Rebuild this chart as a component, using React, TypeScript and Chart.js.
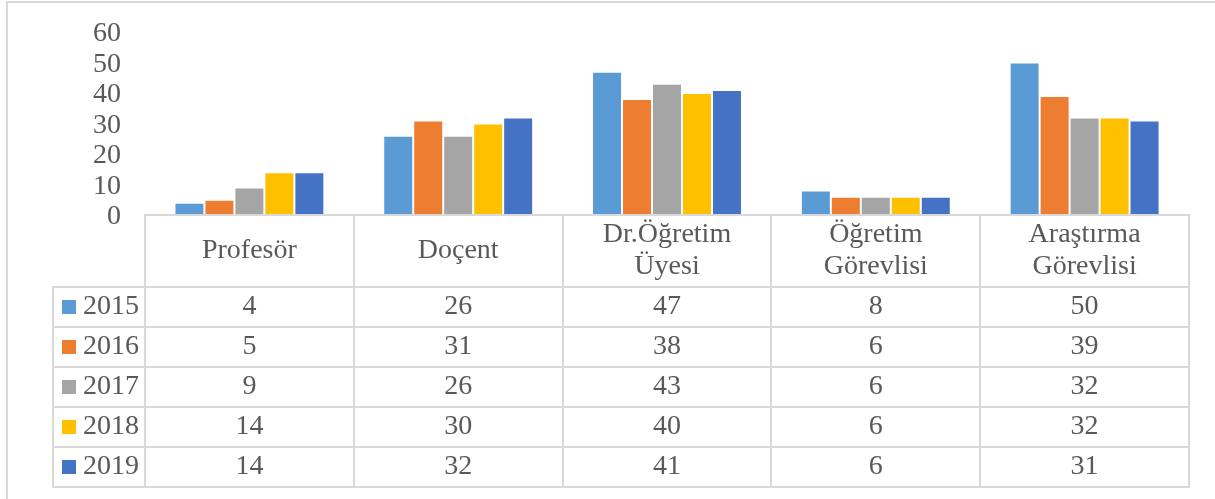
import React, { useEffect, useRef } from "react";
import { Chart, registerables } from "chart.js";

Chart.register(...registerables);

const categoryLines: string[][] = [
  ["Profesör"],
  ["Doçent"],
  ["Dr.Öğretim", "Üyesi"],
  ["Öğretim", "Görevlisi"],
  ["Araştırma", "Görevlisi"],
];
const categories = categoryLines.map((l) => l.join(" "));
const years = ["2015", "2016", "2017", "2018", "2019"];
const colors = ["#5B9BD5", "#ED7D31", "#A5A5A5", "#FFC000", "#4472C4"];
const values2015 = [4, 26, 47, 8, 50];
const values2016 = [5, 31, 38, 6, 39];
const values2017 = [9, 26, 43, 6, 32];
const values2018 = [14, 30, 40, 6, 32];
const values2019 = [14, 32, 41, 6, 31];
const seriesValues = [values2015, values2016, values2017, values2018, values2019];
const yTicks = [0, 10, 20, 30, 40, 50, 60];

const FONT = "'Liberation Serif', 'Times New Roman', serif";
const FONT_SIZE = 28;
const TEXT = "#595959";
const LINE = "#D9D9D9";

const tablePlugin = {
  id: "dataTable",
  afterDraw(chart: any) {
    const { ctx, chartArea } = chart;
    const xs = chart.scales.x;
    const n = categories.length;
    const colW = (chartArea.right - chartArea.left) / n;
    const left = chartArea.left;
    const right = chartArea.right;
    const top = Math.round(chartArea.bottom);
    const headerH = 72;
    const rowH = 40;
    const legendLeft = 53;
    const headerBottom = top + headerH;
    const bottom = headerBottom + rowH * years.length;

    ctx.save();
    ctx.strokeStyle = LINE;
    ctx.lineWidth = 2;
    ctx.strokeRect(7, 2, 1215, 520);

    ctx.beginPath();
    ctx.moveTo(left - 1, top);
    ctx.lineTo(right + 1, top);
    for (let r = 0; r <= years.length; r++) {
      const y = headerBottom + r * rowH;
      ctx.moveTo(legendLeft - 1, y);
      ctx.lineTo(right + 1, y);
    }
    ctx.moveTo(legendLeft, headerBottom);
    ctx.lineTo(legendLeft, bottom);
    for (let c = 0; c <= n; c++) {
      const x = Math.round(left + c * colW);
      ctx.moveTo(x, top);
      ctx.lineTo(x, bottom);
    }
    ctx.stroke();

    ctx.fillStyle = TEXT;
    ctx.font = `${FONT_SIZE}px ${FONT}`;
    ctx.textAlign = "center";
    ctx.textBaseline = "middle";
    categoryLines.forEach((lines, i) => {
      const cx = xs.getPixelForValue(i);
      const cy = top + headerH / 2;
      const lh = 32;
      lines.forEach((t, k) => {
        const y = cy + (k - (lines.length - 1) / 2) * lh;
        ctx.fillText(t, cx, y);
      });
    });
    years.forEach((yr, r) => {
      const cy = headerBottom + r * rowH + rowH / 2;
      ctx.fillStyle = colors[r];
      ctx.fillRect(62, cy - 7, 14, 14);
      ctx.fillStyle = TEXT;
      ctx.textAlign = "left";
      ctx.fillText(yr, 83, cy);
      ctx.textAlign = "center";
      seriesValues[r].forEach((v, i) => {
        ctx.fillText(String(v), xs.getPixelForValue(i), cy);
      });
    });
    ctx.restore();
  },
};

export default function App() {
  const ref = useRef<HTMLCanvasElement | null>(null);
  useEffect(() => {
    document.body.style.margin = "0";
    const canvas = ref.current!;
    const chart = new Chart(canvas, {
      type: "bar",
      data: {
        labels: categories,
        datasets: years.map((y, i) => ({
          label: y,
          data: seriesValues[i],
          backgroundColor: colors[i],
          borderColor: "rgba(255,255,255,0.3)",
          borderWidth: 1,
          categoryPercentage: 0.718,
          barPercentage: 1,
        })),
      },
      options: {
        responsive: false,
        animation: false,
        devicePixelRatio: 1,
        layout: { padding: { top: 32, bottom: 284, right: 26, left: 0 } },
        plugins: { legend: { display: false }, tooltip: { enabled: false } },
        scales: {
          x: { display: false, offset: true },
          y: {
            min: 0,
            max: 60,
            afterBuildTicks: (scale: any) => {
              scale.ticks = yTicks.map((v) => ({ value: v }));
            },
            afterFit: (scale: any) => {
              scale.width = 145;
              scale.paddingTop = 0;
              scale.paddingBottom = 0;
            },
            grid: { display: false, drawTicks: false },
            border: { display: false },
            ticks: {
              autoSkip: false,
              padding: 24,
              labelOffset: 2,
              color: TEXT,
              font: { family: FONT, size: FONT_SIZE, lineHeight: 1 },
            },
          },
        },
      },
      plugins: [tablePlugin],
    });
    return () => chart.destroy();
  }, []);
  return (
    <div style={{ position: "absolute", left: 0, top: 0, width: 1215, height: 499, background: "#fff" }}>
      <canvas ref={ref} width={1215} height={499} />
    </div>
  );
}
